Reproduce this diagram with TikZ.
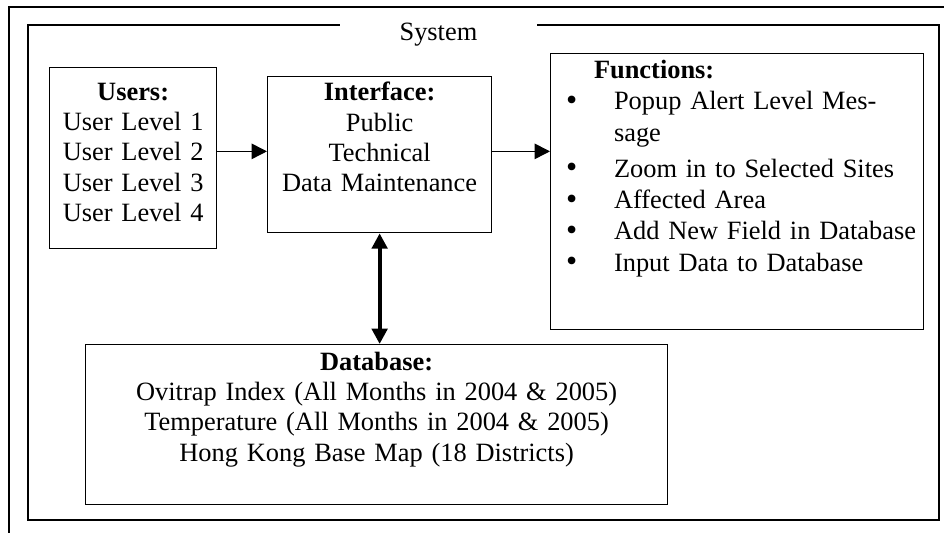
\documentclass[tikz,border=0pt]{standalone}
\usepackage{fontspec}
\setmainfont{Liberation Serif}
\usetikzlibrary{arrows.meta,calc}

% bullet line for the function list
\newcommand{\fitem}[1]{\makebox[21.8pt][l]{%
  \smash{\raisebox{-0.3pt}{\fontsize{14.5pt}{14pt}\selectfont\textbullet}}}\mbox{#1}}

\begin{document}
\begin{tikzpicture}[
  x=1pt, y=1pt,
  every node/.style={font=\fontsize{12pt}{13.8pt}\selectfont},
  box/.style={draw, line width=0.6pt, anchor=north west, align=center,
              inner xsep=0pt, inner ysep=0pt},
  arr/.style={-{Triangle[length=7pt,width=7pt]}, line width=0.7pt},
  dbl/.style={{Triangle[length=7pt,width=7pt]}-{Triangle[length=7pt,width=7pt]},
              line width=1.8pt},
]
\useasboundingbox (0,0) rectangle (429.09,-241.82);

% page frame and system frame
\draw[line width=1pt] (4.09,-246) -- (4.09,-3.18) -- (433,-3.18);
\draw[line width=0.7pt] (12.73,-11.36) rectangle (426.82,-236.36);
\node[fill=white, minimum width=89.5pt, minimum height=13pt, inner sep=0pt]
  (syslabel) at (199.3,-15.65) {System};

\node[box, text width=75.9pt, text height=14.8pt, text depth=67.5pt]
  (users) at (22.27,-30.45)
  {\textbf{Users:}\\User Level 1\\User Level 2\\User Level 3\\User Level 4};
\node[box, text width=101.8pt, text height=10.9pt, text depth=60pt]
  (interface) at (121.36,-34.55)
  {\textbf{Interface:}\\Public\\Technical\\Data Maintenance};
\node[box, align=left, inner xsep=7pt, text width=155.5pt,
      text height=11.4pt, text depth=114.1pt,
      font=\fontsize{12pt}{14.2pt}\selectfont]
  (functions) at (250,-24.09)
  {\hspace*{12.7pt}\textbf{Functions:}\\
   \fitem{Popup Alert Level Mes-}\\
   \hspace*{21.8pt}sage\\[2.2pt]
   \fitem{Zoom in to Selected Sites}\\
   \fitem{Affected Area}\\
   \fitem{Add New Field in Database}\\
   \fitem{Input Data to Database}};
\node[box, text width=264.5pt, text height=11.6pt, text depth=61.1pt]
  (database) at (38.64,-156.36)
  {\textbf{Database:}\\Ovitrap Index (All Months in 2004 \& 2005)\\
   Temperature (All Months in 2004 \& 2005)\\Hong Kong Base Map (18 Districts)};

\coordinate (row) at ($(interface.west)+(0,1.5pt)$);
\draw[arr] (users.east |- row) -- (interface.west |- row);
\draw[arr] (interface.east |- row) -- (functions.west |- row);
\draw[dbl] (interface.south) -- (interface.south |- database.north);
\end{tikzpicture}
\end{document}
